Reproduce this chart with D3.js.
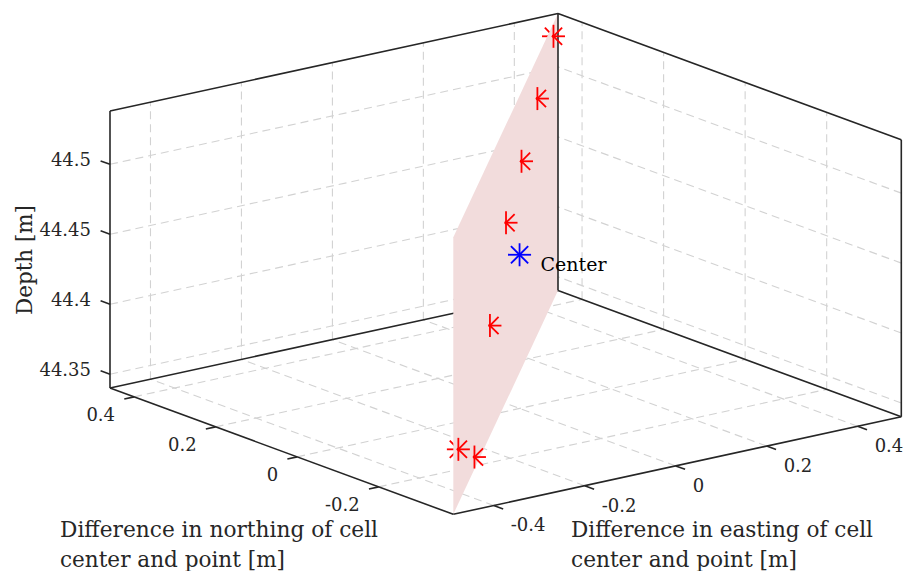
<!DOCTYPE html>
<html>
<head>
<meta charset="utf-8">
<script src="https://cdn.jsdelivr.net/npm/d3@7/dist/d3.min.js"></script>
<style>
  body { margin: 0; background: #ffffff; }
</style>
</head>
<body>
<svg id="chart" width="907" height="571" font-family="'DejaVu Serif', serif"></svg>
<script>
// Axis limits [m]
const eastingLimits = [-0.489, 0.496];
const northingLimits = [-0.383, 0.459];
const depthLimits = [44.3402, 44.5381];

// Tick values and labels
const eastingTicks = [-0.4, -0.2, 0, 0.2, 0.4];
const eastingTickLabels = ["-0.4", "-0.2", "0", "0.2", "0.4"];
const northingTicks = [-0.2, 0, 0.2, 0.4];
const northingTickLabels = ["-0.2", "0", "0.2", "0.4"];
const depthTicks = [44.35, 44.4, 44.45, 44.5];
const depthTickLabels = ["44.35", "44.4", "44.45", "44.5"];

// Measured points (difference to cell centre, depth)
const pointEasting  = [0.452, 0.301, 0.154, 0.007, -0.144, -0.442, -0.291];
const pointNorthing = [0.421, 0.292, 0.167, 0.041, -0.088, -0.343, -0.214];
const pointDepth    = [44.529, 44.509, 44.488, 44.468, 44.419, 44.379, 44.349];

// Cell centre
const centerEasting = [0];
const centerNorthing = [0];
const centerDepth = [44.45];
const centerLabel = "Center";

// Axis titles
const northingTitle = ["Difference in northing of cell", "center and point [m]"];
const eastingTitle = ["Difference in easting of cell", "center and point [m]"];
const depthTitle = "Depth [m]";

// ---- orthographic 3-D view ----
const sx = d3.scaleLinear().domain(eastingLimits).range([0, 1]);
const sy = d3.scaleLinear().domain(northingLimits).range([0, 1]);
const sz = d3.scaleLinear().domain(depthLimits).range([0, 1]);

// screen position of the (xmin, ymin, zmin) corner and the screen span of each axis
const origin = [453.3, 514.3];
const spanX = [448, -97.5];
const spanY = [-343.3, -126.3];
const spanZ = [0, -277];

function proj(x, y, z) {
  const a = sx(x), b = sy(y), c = sz(z);
  return [origin[0] + a * spanX[0] + b * spanY[0] + c * spanZ[0],
          origin[1] + a * spanX[1] + b * spanY[1] + c * spanZ[1]];
}

const [x0, x1] = eastingLimits, [y0, y1] = northingLimits, [z0, z1] = depthLimits;
const xr = x1 - x0, yr = y1 - y0;

const svg = d3.select("#chart");
const line = d3.line();
const ink = "#262626";

function seg(g, p, q) {
  return g.append("path").attr("d", line([proj(...p), proj(...q)]));
}

// ---- grid on the three back planes ----
const grid = svg.append("g")
  .attr("fill", "none").attr("stroke", "#d2d2d2")
  .attr("stroke-width", 1.1).attr("stroke-dasharray", "8,5");

eastingTicks.forEach(v => {
  seg(grid, [v, y0, z0], [v, y1, z0]);     // floor
  seg(grid, [v, y1, z0], [v, y1, z1]);     // back-left wall
});
northingTicks.forEach(v => {
  seg(grid, [x0, v, z0], [x1, v, z0]);     // floor
  seg(grid, [x1, v, z0], [x1, v, z1]);     // back-right wall
});
depthTicks.forEach(v => {
  seg(grid, [x0, y1, v], [x1, y1, v]);     // back-left wall
  seg(grid, [x1, y0, v], [x1, y1, v]);     // back-right wall
});

// floor edge hidden behind the plane
const boxBack = svg.append("g").attr("fill", "none").attr("stroke", ink).attr("stroke-width", 1.6);
seg(boxBack, [x0, y1, z0], [x1, y1, z0]);

// ---- asterisk markers ----
const R = 11.5, D = 0.75 * R;
const armsBack = [[-R, 0], [-D, -D], [-D, D]];
const armsFront = [[R, 0], [D, -D], [D, D], [0, -R], [0, R]];

function drawArms(g, pts, arms, color) {
  pts.forEach(p => {
    arms.forEach(a => {
      g.append("path")
        .attr("d", line([p, [p[0] + a[0], p[1] + a[1]]]))
        .attr("stroke", color).attr("stroke-width", 1.8).attr("fill", "none");
    });
  });
}

const redPts = pointEasting.map((e, i) => proj(e, pointNorthing[i], pointDepth[i]));

// left half of each point sits behind the plane
drawArms(svg.append("g"), redPts, armsBack, "#ff0000");

// ---- vertical plane through the diagonal of the box ----
const planePts = [[x0, y0, z0], [x1, y1, z0], [x1, y1, z1], [x0, y0, z1]].map(p => proj(...p));
svg.append("path")
  .attr("d", line(planePts) + "Z")
  .attr("fill", "#f2dcdc").attr("stroke", "none");

// ---- box edges and axes ----
const box = svg.append("g").attr("fill", "none").attr("stroke", ink).attr("stroke-width", 1.6);
[
  [[x0, y1, z0], [x0, y1, z1]],
  [[x0, y1, z1], [x1, y1, z1]],
  [[x1, y1, z1], [x1, y0, z1]],
  [[x1, y1, z0], [x1, y1, z1]],
  [[x1, y0, z0], [x1, y0, z1]],
  [[x1, y1, z0], [x1, y0, z0]],
  [[x0, y1, z0], [x0, y0, z0]],
  [[x0, y0, z0], [x1, y0, z0]]
].forEach(e => seg(box, e[0], e[1]));

// tick marks
const tickLenX = 10 / Math.hypot(...spanX);
const tickLenY = 10 / Math.hypot(...spanY);
eastingTicks.forEach(v => seg(box, [v, y0, z0], [v, y0 - tickLenY * yr, z0]));
northingTicks.forEach(v => seg(box, [x0, v, z0], [x0 - tickLenX * xr, v, z0]));
depthTicks.forEach(v => seg(box, [x0, y1, v], [x0, y1 + tickLenY * yr, v]));

// tick labels
const labels = svg.append("g").attr("font-size", 18).attr("fill", ink);
eastingTicks.forEach((v, i) => {
  const p = proj(v, y0, z0);
  labels.append("text").attr("x", p[0] + 17).attr("y", p[1] + 26)
    .attr("text-anchor", "start").text(eastingTickLabels[i]);
});
northingTicks.forEach((v, i) => {
  const p = proj(x0, v, z0);
  labels.append("text").attr("x", p[0] - 19).attr("y", p[1] + 24)
    .attr("text-anchor", "end").text(northingTickLabels[i]);
});
depthTicks.forEach((v, i) => {
  const p = proj(x0, y1, v);
  labels.append("text").attr("x", p[0] - 19).attr("y", p[1] + 1.5)
    .attr("text-anchor", "end").text(depthTickLabels[i]);
});

// axis titles
const titles = svg.append("g").attr("font-size", 22).attr("fill", ink);
const titleWidthsN = [318, 225], titleWidthsE = [302, 226];
northingTitle.forEach((t, i) => {
  titles.append("text").attr("x", 60).attr("y", 537 + 30 * i)
    .attr("textLength", titleWidthsN[i]).attr("lengthAdjust", "spacingAndGlyphs").text(t);
});
eastingTitle.forEach((t, i) => {
  titles.append("text").attr("x", 571).attr("y", 537 + 30 * i)
    .attr("textLength", titleWidthsE[i]).attr("lengthAdjust", "spacingAndGlyphs").text(t);
});
titles.append("text")
  .attr("transform", "translate(32,260) rotate(-90)")
  .attr("text-anchor", "middle")
  .attr("textLength", 110).attr("lengthAdjust", "spacingAndGlyphs")
  .text(depthTitle);

// front half of the points
const front = svg.append("g");
drawArms(front, redPts, armsFront, "#ff0000");
redPts.forEach(p => front.append("circle").attr("cx", p[0]).attr("cy", p[1]).attr("r", 1.8).attr("fill", "#ff0000"));

// cell centre
const centerPts = centerEasting.map((e, i) => proj(e, centerNorthing[i], centerDepth[i]));
drawArms(front, centerPts, armsBack.concat(armsFront), "#0000ff");
centerPts.forEach(p => {
  front.append("circle").attr("cx", p[0]).attr("cy", p[1]).attr("r", 1.8).attr("fill", "#0000ff");
  front.append("text").attr("x", p[0] + 21).attr("y", p[1] + 16)
    .attr("font-size", 19).attr("fill", "#000000").text(centerLabel);
});
</script>
</body>
</html>
